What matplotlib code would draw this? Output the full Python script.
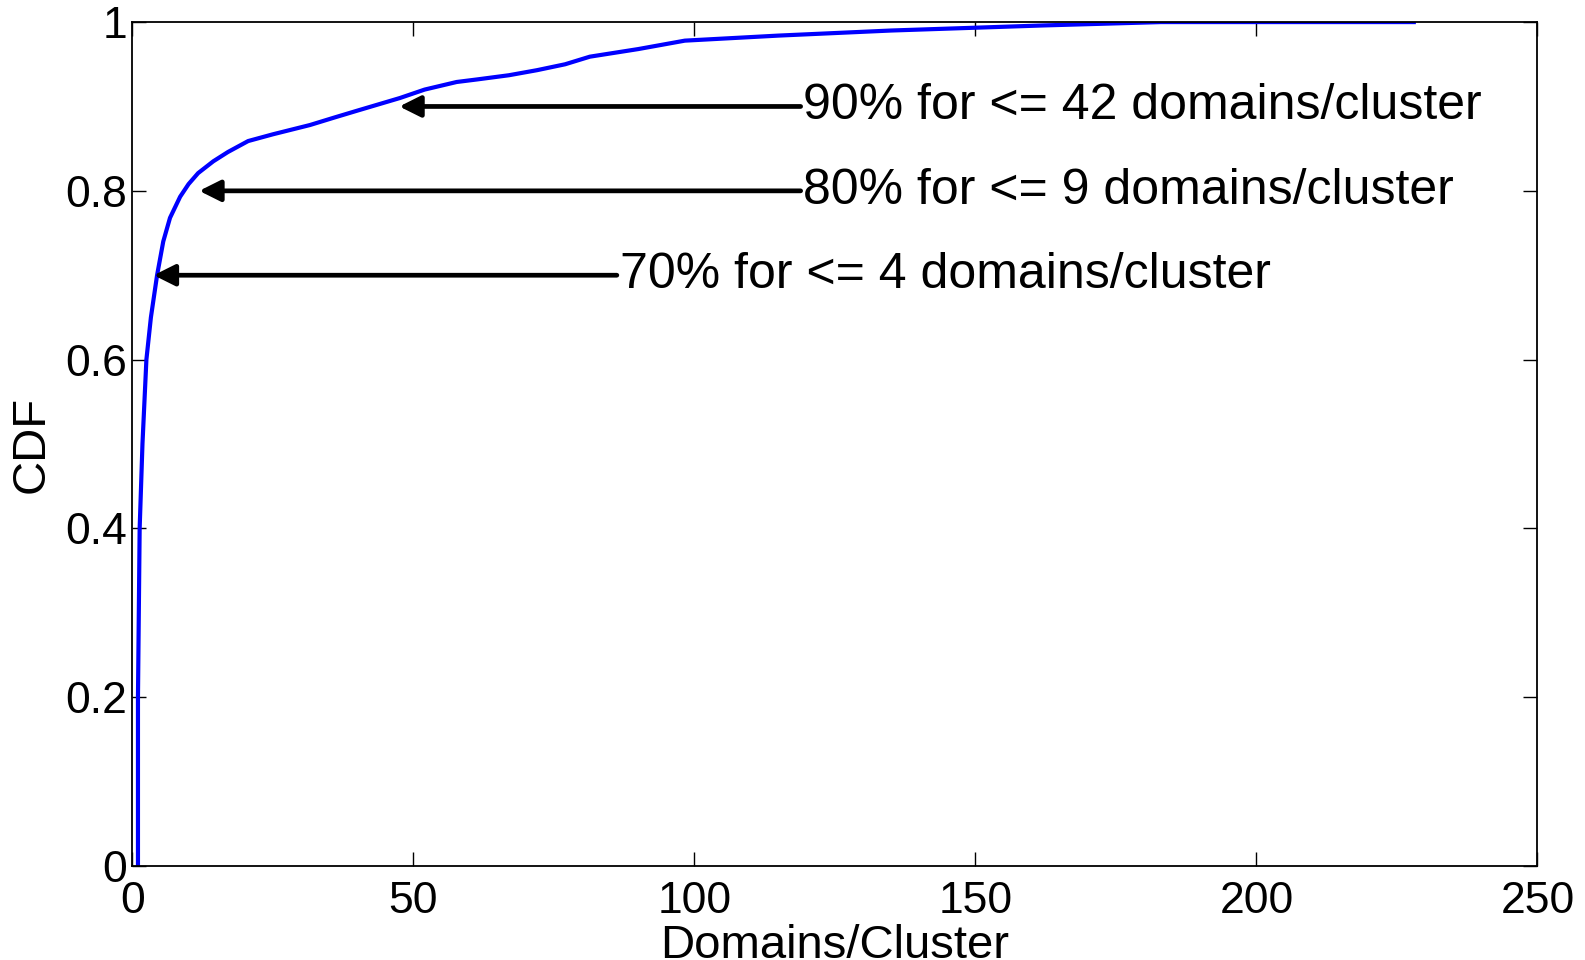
import matplotlib
matplotlib.use("Agg")
import matplotlib.pyplot as plt

# CDF of domains per cluster
domains = [1, 1, 1.3, 1.8, 2.5, 3.3, 4.4, 5.5, 6.7, 8.5, 10, 11.7, 14.4, 17, 20.6, 25,
           31.6, 36, 40, 47.6, 52, 57.7, 61.3, 67, 72, 77, 81.4, 90, 98.3, 115,
           135, 162, 183, 228]
cdf = [0, 0.2, 0.4, 0.5, 0.6, 0.65, 0.70, 0.74, 0.768, 0.793, 0.808, 0.821, 0.835,
       0.846, 0.859, 0.867, 0.878, 0.887, 0.895, 0.910, 0.920, 0.929, 0.932, 0.937,
       0.943, 0.950, 0.959, 0.968, 0.978, 0.984, 0.99, 0.996, 1.0, 1.0]

# annotations: text, arrow tip (x, y), text start x
notes = ["90% for <= 42 domains/cluster",
         "80% for <= 9 domains/cluster",
         "70% for <= 4 domains/cluster"]
tip_x = [47.5, 11.9, 3.8]
tip_y = [0.9, 0.8, 0.7]
text_x = [119.4, 119.4, 86.7]

plt.rcParams["font.family"] = ["Liberation Sans", "DejaVu Sans"]

fig = plt.figure(figsize=(15.85, 9.6), dpi=100)
ax = fig.add_axes([0.0835, 0.098, 0.8865, 0.879])

ax.plot(domains, cdf, color="#0000ff", lw=3)

for txt, tx, ty, sx in zip(notes, tip_x, tip_y, text_x):
    ax.annotate(txt, xy=(tx, ty), xytext=(sx, ty), fontsize=36,
                ha="left", va="center",
                arrowprops=dict(arrowstyle="-|>", color="k", lw=3.4,
                                mutation_scale=32, shrinkA=0, shrinkB=0))

ax.set_xlim(0, 250)
ax.set_ylim(0, 1)
ax.set_xticks([0, 50, 100, 150, 200, 250])
ax.set_yticks([0, 0.2, 0.4, 0.6, 0.8, 1])
ax.set_yticklabels(["0", "0.2", "0.4", "0.6", "0.8", "1"])
ax.tick_params(direction="in", length=10, width=1, top=True, right=True,
               labelsize=32)
ax.tick_params(axis="x", pad=11)
ax.tick_params(axis="y", pad=4)
for s in ax.spines.values():
    s.set_linewidth(1.3)

ax.set_xlabel("Domains/Cluster", fontsize=34, labelpad=1)
ax.set_ylabel("CDF", fontsize=34, labelpad=8)

fig.savefig("out.png", dpi=100)
